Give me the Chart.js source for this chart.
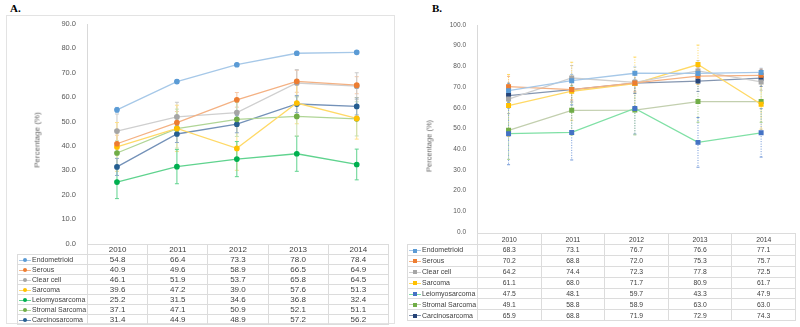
<!DOCTYPE html>
<html>
<head>
<meta charset="utf-8">
<script src="https://cdn.jsdelivr.net/npm/chart.js@4.4.1/dist/chart.umd.min.js"></script>
<style>
body { margin: 0; width: 800px; height: 327px; position: relative; background: #fff; overflow: hidden;
       font-family: "Liberation Sans", Arial, sans-serif; }
.plabel { position: absolute; font-family: "Liberation Serif", serif; font-weight: bold; font-size: 11px; color: #000; }
.frame { position: absolute; left: 6px; top: 15px; width: 389px; height: 309px; border: 1px solid #e3e3e3; box-sizing: border-box; }
canvas { position: absolute; }
.ytitle { position: absolute; white-space: nowrap; color: #666; transform: translate(-50%, -50%) rotate(-90deg); }
table { position: absolute; border-collapse: collapse; table-layout: fixed; color: #404040; }
td { border: 1px solid #dcdcdc; padding: 0; text-align: center; white-space: nowrap; overflow: hidden; }
td.name { text-align: left; padding-left: 1px; font-size: 7px; }
td.blank { border: none; }
.glyph { display: inline-block; position: relative; width: 12px; height: 6px; margin-right: 1px; vertical-align: middle; }
.glyph::before { content: ""; position: absolute; left: 0; right: 0; top: 2.5px; height: 1px; background: var(--ln); }
.glyph::after { content: ""; position: absolute; left: 4px; top: 1px; width: 4px; height: 4px; background: var(--mk); }
.tA .glyph::after { border-radius: 50%; }
</style>
</head>
<body>
<div class="plabel" style="left:10px;top:2px;">A.</div>
<div class="plabel" style="left:432px;top:2px;">B.</div>
<div class="frame"></div>
<canvas id="chartA" width="386" height="236" style="left:6px;top:15px;"></canvas>
<canvas id="chartB" width="398" height="224" style="left:400px;top:15px;"></canvas>
<div class="ytitle" style="left:37px;top:140px;font-size:8px;">Percentage (%)</div>
<div class="ytitle" style="left:429px;top:146px;font-size:7.5px;">Percentage (%)</div>
<table id="tableA" class="tA" style="left:17px;top:244px;width:372px;font-size:8px;"></table>
<table id="tableB" class="tB" style="left:407px;top:233px;width:389px;font-size:6.8px;"></table>

<script>
// years and series names shared by both panels
const years = ['2010', '2011', '2012', '2013', '2014'];
const seriesNames = ['Endometrioid', 'Serous', 'Clear cell', 'Sarcoma', 'Leiomyosarcoma', 'Stromal Sarcoma', 'Carcinosarcoma'];

// panel A values
const endometrioidA = [54.8, 66.4, 73.3, 78.0, 78.4];
const serousA = [40.9, 49.6, 58.9, 66.5, 64.9];
const clearCellA = [46.1, 51.9, 53.7, 65.8, 64.5];
const sarcomaA = [39.6, 47.2, 39.0, 57.6, 51.3];
const leiomyosarcomaA = [25.2, 31.5, 34.6, 36.8, 32.4];
const stromalA = [37.1, 47.1, 50.9, 52.1, 51.1];
const carcinosarcomaA = [31.4, 44.9, 48.9, 57.2, 56.2];

// panel A error bar half-widths
const endometrioidErrA = [1.0, 0.8, 0.6, 0.8, 0.6];
const serousErrA = [3.5, 4.5, 3.0, 4.5, 3.5];
const clearCellErrA = [7.0, 6.0, 5.0, 5.5, 5.5];
const sarcomaErrA = [10.0, 9.5, 9.0, 8.5, 8.5];
const leiomyosarcomaErrA = [6.8, 7.0, 7.2, 7.2, 6.3];
const stromalErrA = [5.0, 8.0, 7.0, 8.0, 7.0];
const carcinosarcomaErrA = [3.5, 3.5, 3.5, 3.5, 3.5];

// panel B values
const endometrioidB = [68.3, 73.1, 76.7, 76.6, 77.1];
const serousB = [70.2, 68.8, 72.0, 75.3, 75.7];
const clearCellB = [64.2, 74.4, 72.3, 77.8, 72.5];
const sarcomaB = [61.1, 68.0, 71.7, 80.9, 61.7];
const leiomyosarcomaB = [47.5, 48.1, 59.7, 43.3, 47.9];
const stromalB = [49.1, 58.8, 58.9, 63.0, 63.0];
const carcinosarcomaB = [65.9, 68.8, 71.9, 72.9, 74.3];

// panel B error bar half-widths
const endometrioidErrB = [3, 3, 3, 3, 2];
const serousErrB = [5, 5, 4, 4, 3];
const clearCellErrB = [7, 6, 5, 5, 4];
const sarcomaErrB = [15, 14, 12.8, 9.4, 12];
const leiomyosarcomaErrB = [15, 13.3, 12.4, 12, 11.7];
const stromalErrB = [14, 12, 12, 10, 10];
const carcinosarcomaErrB = [6, 6, 5, 5, 4];

const markerA = ['#5b9bd5', '#ed7d31', '#a5a5a5', '#ffc000', '#00b050', '#70ad47', '#255e91'];
const lineA = ['#a6c8e8', '#f4b183', '#cfcfcf', '#ffd966', '#5fd38e', '#b0d596', '#7391b8'];
const markerB = ['#5b9bd5', '#ed7d31', '#a5a5a5', '#ffc000', '#4472c4', '#70ad47', '#264478'];
const lineB = ['#a6c8e8', '#f4b183', '#cfcfcf', '#ffd966', '#7fe0a5', '#c2cfae', '#8596b0'];

// vertical error bars drawn through the y scale
const errorBars = {
  id: 'errorBars',
  beforeDatasetsDraw(chart, args, opts) {
    const ctx = chart.ctx;
    const y = chart.scales.y;
    chart.data.datasets.forEach((ds, i) => {
      const meta = chart.getDatasetMeta(i);
      ctx.save();
      ctx.strokeStyle = ds.errColor;
      ctx.lineWidth = 1;
      ctx.setLineDash(opts.dash || []);
      meta.data.forEach((pt, j) => {
        const v = ds.data[j], e = ds.errors[j];
        const top = y.getPixelForValue(v + e);
        const bot = y.getPixelForValue(v - e);
        ctx.beginPath();
        ctx.moveTo(pt.x, top);
        ctx.lineTo(pt.x, bot);
        ctx.stroke();
        ctx.setLineDash([]);
        ctx.beginPath();
        ctx.moveTo(pt.x - opts.cap, top);
        ctx.lineTo(pt.x + opts.cap, top);
        ctx.moveTo(pt.x - opts.cap, bot);
        ctx.lineTo(pt.x + opts.cap, bot);
        ctx.stroke();
        ctx.setLineDash(opts.dash || []);
      });
      ctx.restore();
    });
  }
};

function makeChart(id, values, errors, markers, lines, cfg) {
  const datasets = values.map((vals, i) => ({
    label: seriesNames[i],
    data: vals,
    errors: errors[i],
    errColor: cfg.errColors[i],
    borderColor: lines[i],
    backgroundColor: markers[i],
    pointBackgroundColor: markers[i],
    pointBorderColor: markers[i],
    pointStyle: cfg.pointStyle,
    pointRadius: cfg.pointRadius,
    borderWidth: 1.3,
    tension: 0,
    clip: false
  }));
  return new Chart(document.getElementById(id), {
    type: 'line',
    data: { labels: years, datasets: datasets },
    plugins: [errorBars],
    options: {
      responsive: false,
      animation: false,
      devicePixelRatio: 1,
      layout: { padding: cfg.padding },
      plugins: {
        legend: { display: false },
        tooltip: { enabled: false },
        errorBars: { dash: cfg.dash, cap: cfg.cap }
      },
      scales: {
        x: { display: false, offset: true },
        y: {
          min: 0,
          max: cfg.max,
          afterFit: function(scale) { scale.width = cfg.axisWidth; },
          grid: { display: false },
          border: { display: true, color: '#d9d9d9' },
          ticks: {
            stepSize: 10,
            padding: 3,
            color: '#595959',
            font: { family: cfg.font, size: cfg.tickSize },
            callback: function(value) { return value.toFixed(1); }
          }
        }
      }
    }
  });
}

function fillTable(id, values, markers, lines, rowH, headH) {
  const table = document.getElementById(id);
  let html = '<colgroup><col style="width:70px">' + years.map(() => '<col>').join('') + '</colgroup>';
  html += '<tr style="height:' + headH + 'px"><td class="blank"></td>' + years.map(y => '<td>' + y + '</td>').join('') + '</tr>';
  values.forEach((vals, i) => {
    html += '<tr style="height:' + rowH + 'px"><td class="name"><span class="glyph" style="--ln:' + lines[i] + ';--mk:' + markers[i] + '"></span>' + seriesNames[i] + '</td>';
    html += vals.map(v => '<td>' + v.toFixed(1) + '</td>').join('') + '</tr>';
  });
  table.innerHTML = html;
}

const valuesA = [endometrioidA, serousA, clearCellA, sarcomaA, leiomyosarcomaA, stromalA, carcinosarcomaA];
const errorsA = [endometrioidErrA, serousErrA, clearCellErrA, sarcomaErrA, leiomyosarcomaErrA, stromalErrA, carcinosarcomaErrA];
const valuesB = [endometrioidB, serousB, clearCellB, sarcomaB, leiomyosarcomaB, stromalB, carcinosarcomaB];
const errorsB = [endometrioidErrB, serousErrB, clearCellErrB, sarcomaErrB, leiomyosarcomaErrB, stromalErrB, carcinosarcomaErrB];

makeChart('chartA', valuesA, errorsA, markerA, lineA, {
  max: 90, axisWidth: 59, padding: { left: 22, top: 9, right: 3, bottom: 7 },
  pointStyle: 'circle', pointRadius: 2.2, dash: [], cap: 2,
  errColors: ['#a6c8e8', '#f8c8a6', '#c9c9c9', '#ffe08a', '#5fd38e', '#c5e0b3', '#8ea9c8'],
  font: 'Liberation Sans', tickSize: 7.5
});
makeChart('chartB', valuesB, errorsB, markerB, lineB, {
  max: 100, axisWidth: 57, padding: { left: 20, top: 10, right: 2, bottom: 7 },
  pointStyle: 'rect', pointRadius: 2.6, dash: [1, 1.5], cap: 1.5,
  errColors: ['#9dc3e6', '#f4b183', '#bfbfbf', '#ffd966', '#6f96d8', '#a9d18e', '#7f93ad'],
  font: 'Liberation Sans', tickSize: 6.5
});

fillTable('tableA', valuesA, markerA, lineA, 9.4, 10);
fillTable('tableB', valuesB, markerB, lineB, 10.9, 11);
</script>
</body>
</html>
